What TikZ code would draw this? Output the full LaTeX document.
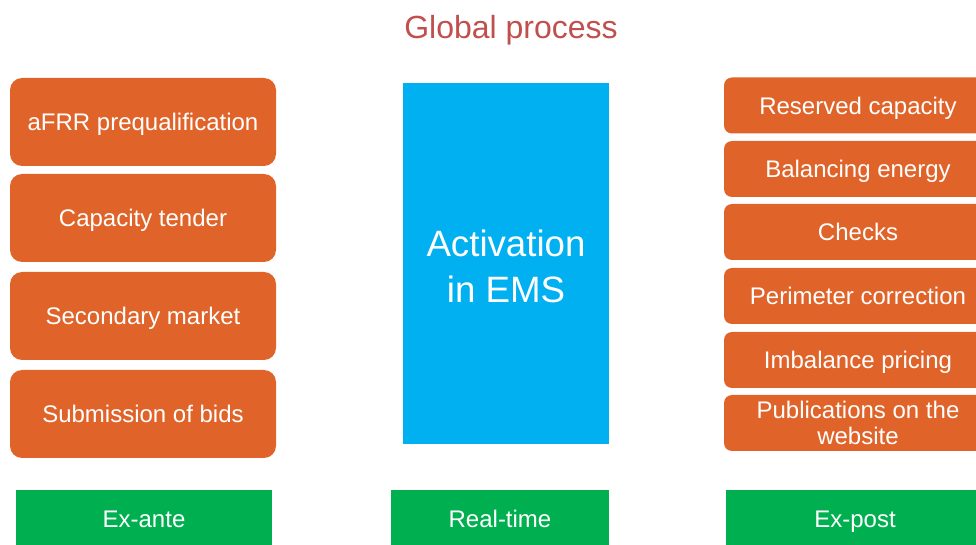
\documentclass[tikz,border=0pt]{standalone}
\usepackage{fontspec}
\setmainfont{Liberation Sans}
\definecolor{orng}{RGB}{224,100,42}
\definecolor{bluebox}{RGB}{0,176,240}
\definecolor{greenbox}{RGB}{0,176,80}
\definecolor{titlered}{RGB}{192,80,77}
\begin{document}
\begin{tikzpicture}[x=0.75pt,y=-0.75pt,
  obox/.style={fill=orng,draw=none,text=white,align=center,inner sep=0pt,
    font=\fontsize{18}{19}\selectfont},
  oneline/.style={text height=13pt,text depth=0.1pt},
  lbox/.style={obox,oneline,rounded corners=9pt,minimum width=199.5pt,minimum height=66pt},
  rbox/.style={obox,rounded corners=6pt,minimum width=201pt,minimum height=42pt},
  gbox/.style={fill=greenbox,draw=none,text=white,inner sep=0pt,minimum height=43.5pt,
    oneline,font=\fontsize{18}{19}\selectfont},
  bbox/.style={fill=bluebox,draw=none,inner sep=0pt,
    minimum width=154.5pt,minimum height=270.75pt},
  btext/.style={text=white,align=center,inner sep=0pt,font=\fontsize{27.5}{34}\selectfont}]
\useasboundingbox (0,0) rectangle (976,545);
\clip (0,0) rectangle (976,545);
\node[text=titlered,font=\fontsize{24}{26}\selectfont] (title) at (511,30) {Global process};
% left column
\node[lbox] (l1) at (143,122) {aFRR prequalification};
\node[lbox] (l2) at (143,218) {Capacity tender};
\node[lbox] (l3) at (143,316) {Secondary market};
\node[lbox] (l4) at (143,414) {Submission of bids};
% middle
\node[bbox] (act) at (506,263.5) {};
\node[btext] (acttext) at (506,266.5) {Activation\\in EMS};
% right column
\node[rbox,oneline] (r1) at (858,105.5) {Reserved capacity};
\node[rbox,oneline] (r2) at (858,169) {Balancing energy};
\node[rbox,oneline] (r3) at (858,232) {Checks};
\node[rbox,oneline] (r4) at (858,296) {Perimeter correction};
\node[rbox,oneline] (r5) at (858,360) {Imbalance pricing};
\node[rbox] (r6) at (858,423) {Publications on the\\website};
% bottom
\node[gbox,minimum width=192pt] (g1) at (144,519) {Ex-ante};
\node[gbox,minimum width=163.5pt] (g2) at (500,519) {Real-time};
\node[gbox,minimum width=193.5pt] (g3) at (855,519) {Ex-post};
\end{tikzpicture}
\end{document}
